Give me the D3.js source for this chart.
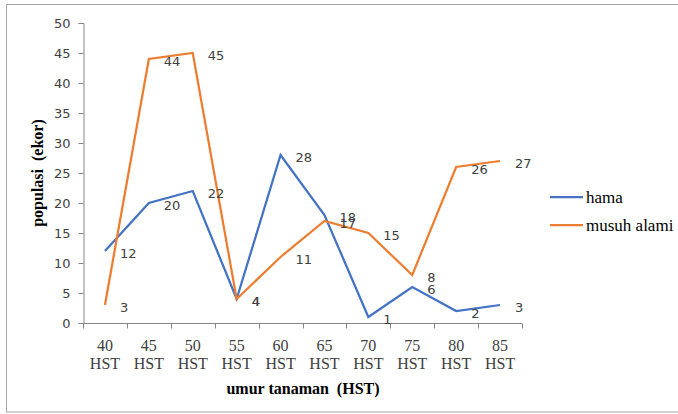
<!DOCTYPE html>
<html>
<head>
<meta charset="utf-8">
<script src="https://cdn.jsdelivr.net/npm/d3@7"></script>
<style>
  html, body { margin: 0; padding: 0; background: #fff; }
  svg { display: block; }
</style>
</head>
<body>
<svg id="chart" width="678" height="414"></svg>
<script>
const categories = ["40", "45", "50", "55", "60", "65", "70", "75", "80", "85"];
const categoryUnit = "HST";
const hama = [12, 20, 22, 4, 28, 18, 1, 6, 2, 3];
const musuhAlami = [3, 44, 45, 4, 11, 17, 15, 8, 26, 27];
const yTicks = [0, 5, 10, 15, 20, 25, 30, 35, 40, 45, 50];
const seriesNames = ["hama", "musuh alami"];
const seriesColors = ["#4472C4", "#ED7D31"];
const xTitle = "umur tanaman  (HST)";
const yTitle = "populasi  (ekor)";

const svg = d3.select("#chart");

// outer border
svg.append("rect")
  .attr("x", 6.5).attr("y", 4.5)
  .attr("width", 678).attr("height", 407.5)
  .attr("fill", "none").attr("stroke", "#a6a6a6").attr("stroke-width", 1);

const plot = { left: 83, right: 522, top: 23, bottom: 323 };

const x = d3.scaleBand().domain(categories).range([plot.left, plot.right]).padding(0);
const y = d3.scaleLinear().domain([0, 50]).range([plot.bottom, plot.top]);

// y axis
const yAxis = svg.append("g")
  .attr("transform", `translate(${plot.left + 0.5},0)`)
  .call(d3.axisLeft(y).tickValues(yTicks).tickSize(5).tickPadding(8));
yAxis.select(".domain").attr("stroke", "#868686");
yAxis.selectAll(".tick line").attr("stroke", "#868686");
yAxis.selectAll(".tick text")
  .attr("font-family", "DejaVu Sans, Verdana, sans-serif")
  .attr("font-size", 13).attr("fill", "#404040");

// x axis: ticks at band boundaries
const xAxisG = svg.append("g").attr("transform", `translate(0,${plot.bottom + 0.5})`);
xAxisG.append("line")
  .attr("x1", plot.left).attr("x2", plot.right)
  .attr("stroke", "#868686");
const boundaries = categories.map(c => x(c)).concat([x(categories[categories.length - 1]) + x.bandwidth()]);
xAxisG.selectAll("line.tk").data(boundaries).join("line")
  .attr("class", "tk")
  .attr("x1", d => Math.round(d) + 0.5).attr("x2", d => Math.round(d) + 0.5)
  .attr("y1", 0).attr("y2", 5)
  .attr("stroke", "#868686");
const xl = xAxisG.selectAll("text.xl").data(categories).join("text")
  .attr("class", "xl")
  .attr("x", d => x(d) + x.bandwidth() / 2)
  .attr("text-anchor", "middle")
  .attr("font-family", "Liberation Serif, Times New Roman, serif")
  .attr("font-size", 16).attr("fill", "#404040");
xl.append("tspan").attr("x", d => x(d) + x.bandwidth() / 2).attr("y", 27).text(d => d);
xl.append("tspan").attr("x", d => x(d) + x.bandwidth() / 2).attr("y", 45).text(categoryUnit);

// titles
svg.append("text")
  .attr("x", 303).attr("y", 394)
  .attr("text-anchor", "middle")
  .attr("font-family", "Liberation Serif, Times New Roman, serif")
  .attr("font-weight", "bold").attr("font-size", 16)
  .style("white-space", "pre")
  .attr("fill", "#000")
  .text(xTitle);
svg.append("text")
  .attr("transform", "translate(43,173) rotate(-90)")
  .attr("text-anchor", "middle")
  .attr("font-family", "Liberation Serif, Times New Roman, serif")
  .attr("font-weight", "bold").attr("font-size", 16)
  .style("white-space", "pre")
  .attr("fill", "#000")
  .text(yTitle);

// lines
const series = [hama, musuhAlami];
const line = d3.line()
  .x((d, i) => x(categories[i]) + x.bandwidth() / 2)
  .y(d => y(d));

series.forEach((vals, si) => {
  svg.append("path")
    .datum(vals)
    .attr("d", line)
    .attr("fill", "none")
    .attr("stroke", seriesColors[si])
    .attr("stroke-width", 2.25)
    .attr("stroke-linejoin", "miter");
});

// data labels (right of point)
series.forEach((vals, si) => {
  svg.append("g").selectAll("text").data(vals).join("text")
    .attr("x", (d, i) => x(categories[i]) + x.bandwidth() / 2 + 15)
    .attr("y", d => y(d) + 2)
    .attr("dominant-baseline", "central")
    .attr("font-family", "DejaVu Sans, Verdana, sans-serif")
    .attr("font-size", 13).attr("fill", "#404040")
    .text(d => d);
});

// legend
const legend = svg.append("g");
seriesNames.forEach((name, i) => {
  const ly = 197 + i * 28;
  legend.append("line")
    .attr("x1", 550).attr("x2", 583)
    .attr("y1", ly).attr("y2", ly)
    .attr("stroke", seriesColors[i]).attr("stroke-width", 2.25);
  legend.append("text")
    .attr("x", 586).attr("y", ly)
    .attr("dominant-baseline", "central")
    .attr("font-family", "Liberation Serif, Times New Roman, serif")
    .attr("font-size", 17).attr("fill", "#000")
    .text(name);
});
</script>
</body>
</html>
